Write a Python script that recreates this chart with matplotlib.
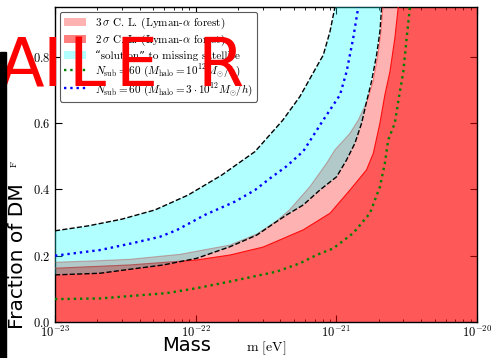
import numpy as np
import matplotlib
matplotlib.use('Agg')
import matplotlib.pyplot as plt
from matplotlib.patches import Rectangle

plt.rcParams['font.family'] = ['cmr10', 'DejaVu Serif']
plt.rcParams['mathtext.fontset'] = 'cm'
plt.rcParams['axes.formatter.use_mathtext'] = True

# log10(m / eV) and fraction F for each boundary
upper_lm = [-23.0, -22.763, -22.526, -22.289, -22.053, -21.815, -21.578, -21.38, -21.259, -21.14, -21.093, -21.045, -21.01]
upper_f = [0.275, 0.290, 0.310, 0.338, 0.383, 0.443, 0.514, 0.609, 0.680, 0.770, 0.805, 0.876, 0.95]

lower_lm = [-23.0, -22.68, -22.467, -22.23, -21.993, -21.756, -21.566, -21.424, -21.353, -21.235, -21.117, -20.998,
            -20.927, -20.868, -20.82, -20.785, -20.75, -20.714, -20.69, -20.678]
lower_f = [0.142, 0.147, 0.159, 0.172, 0.192, 0.227, 0.262, 0.303, 0.323, 0.353, 0.398, 0.438,
           0.489, 0.539, 0.600, 0.665, 0.725, 0.805, 0.876, 0.95]

blue_lm = [-23.0, -22.68, -22.446, -22.254, -22.135, -21.934, -21.721, -21.578, -21.472, -21.353, -21.235, -21.093,
           -20.974, -20.927, -20.88, -20.844]
blue_f = [0.200, 0.217, 0.238, 0.257, 0.277, 0.323, 0.363, 0.398, 0.433, 0.470, 0.515, 0.609,
          0.685, 0.755, 0.856, 0.95]

sig3_lm = [-23.0, -22.68, -22.467, -22.112, -21.756, -21.566, -21.424, -21.333, -21.188, -21.069, -21.01, -20.903,
           -20.844, -20.783, -20.74, -20.705, -20.683, -20.669]
sig3_f = [0.180, 0.185, 0.189, 0.204, 0.232, 0.265, 0.305, 0.338, 0.408, 0.479, 0.519, 0.569,
          0.609, 0.664, 0.724, 0.805, 0.877, 0.95]

sig2_lm = [-23.0, -22.467, -21.993, -21.756, -21.52, -21.235, -21.045, -20.903, -20.785, -20.737, -20.69,
           -20.655, -20.619, -20.584, -20.56]
sig2_f = [0.162, 0.172, 0.187, 0.202, 0.226, 0.278, 0.328, 0.398, 0.459, 0.509, 0.600,
          0.685, 0.755, 0.856, 0.95]

green_lm = [-23.0, -22.68, -22.206, -21.993, -21.756, -21.424, -21.259, -21.14, -21.022, -20.88, -20.761, -20.69,
            -20.655, -20.631, -20.584, -20.56, -20.524, -20.5, -20.477]
green_f = [0.069, 0.071, 0.087, 0.102, 0.122, 0.152, 0.177, 0.202, 0.222, 0.268, 0.328, 0.408,
           0.479, 0.549, 0.600, 0.665, 0.755, 0.856, 0.95]

x_min, x_max = 1e-23, 1e-20
y_max = 0.95

labels = [r'$3\,\sigma$ C. L. (Lyman-$\alpha$ forest)',
          r'$2\,\sigma$ C. L. (Lyman-$\alpha$ forest)',
          '\u201csolution\u201d to missing satellite',
          r'$N_{\rm sub}=60\ (M_{\rm halo}=10^{12}M_{\odot}/h)$',
          r'$N_{\rm sub}=60\ (M_{\rm halo}=3\cdot 10^{12}M_{\odot}/h)$']


def m(lm):
    return 10.0 ** np.array(lm)


fig = plt.figure(figsize=(4.94, 3.58), dpi=100)
ax = fig.add_axes([0.1113, 0.1006, 0.8543, 0.8798])

# Lyman-alpha exclusion regions
p3 = ax.fill(np.concatenate([m(sig3_lm), [x_max, x_max, x_min]]),
             sig3_f + [y_max, 0, 0], color='red', alpha=0.3, lw=0, zorder=1)[0]
p2 = ax.fill(np.concatenate([m(sig2_lm), [x_max, x_max, x_min]]),
             sig2_f + [y_max, 0, 0], color='red', alpha=0.5, lw=0, zorder=2)[0]
ax.plot(m(sig3_lm), sig3_f, color='red', alpha=0.45, lw=0.8, zorder=3)
ax.plot(m(sig2_lm), sig2_f, color='red', alpha=0.9, lw=0.8, zorder=3)

# missing satellite band
pc = ax.fill(np.concatenate([m(upper_lm), m(lower_lm)[::-1]]),
             upper_f + lower_f[::-1], color='cyan', alpha=0.3, lw=0, zorder=4)[0]
ax.plot(m(upper_lm), upper_f, 'k--', lw=1.0, zorder=5)
ax.plot(m(lower_lm), lower_f, 'k--', lw=1.0, zorder=5)

lg, = ax.plot(m(green_lm), green_f, color='green', ls=':', lw=1.7, zorder=6)
lb, = ax.plot(m(blue_lm), blue_f, color='blue', ls=':', lw=1.7, zorder=6)

ax.set_xscale('log')
ax.set_xlim(x_min, x_max)
ax.set_ylim(0, y_max)
ax.set_yticks([0.0, 0.2, 0.4, 0.6, 0.8])
ax.tick_params(which='both', direction='in', top=True, right=True, labelsize=9)
ax.tick_params(which='major', length=5, width=0.8)
ax.tick_params(which='minor', length=2.5, width=0.6)
ax.tick_params(axis='x', pad=2)
for s in ax.spines.values():
    s.set_linewidth(1.0)

ax.set_xlabel(r'$\mathrm{m}\ [\mathrm{eV}]$', fontsize=10)
ax.xaxis.set_label_coords(0.5, -0.055)
ax.set_ylabel(r'$\mathrm{F}$', fontsize=7)
ax.yaxis.set_label_coords(-0.085, 0.5)

leg = ax.legend([p3, p2, pc, lg, lb], labels, loc='upper left', fontsize=8,
                labelspacing=0.15, handlelength=2.0, borderaxespad=0.45,
                borderpad=0.35, fancybox=True, framealpha=1)
leg.get_frame().set_edgecolor('0.35')
leg.get_frame().set_linewidth(0.8)

# overlays on the picture
fig.patches.append(Rectangle((0, 0), 6 / 494, (358 - 52) / 358, transform=fig.transFigure,
                             color='black', zorder=10))
fig.text(18 / 494, 0.285, 'Fraction of DM', rotation=90, ha='center', va='center',
         fontsize=14.5, family='DejaVu Sans')
fig.text(162 / 494, 0.036, 'Mass', ha='left', va='center', fontsize=14, family='DejaVu Sans')
for ch, xc in zip('AILER', [21, 52, 87, 137, 221]):
    fig.text(xc / 494, 0.812, ch, ha='center', va='center', fontsize=48,
             color='red', family='DejaVu Sans')

fig.savefig('out.png', dpi=100)
